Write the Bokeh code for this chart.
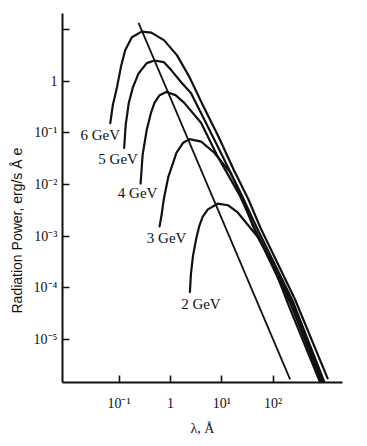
from bokeh.plotting import figure
from bokeh.models import Range1d, FixedTicker, Title, ColumnDataSource
from bokeh.core.properties import value
from bokeh.embed import file_html
from bokeh.resources import INLINE

# ---- data (log10 of wavelength in Angstrom, log10 of power) ----
energies = ["6 GeV", "5 GeV", "4 GeV", "3 GeV", "2 GeV"]

log_lam_6 = [-1.17, -1.12, -1.04, -0.96, -0.88, -0.75, -0.56, -0.37, -0.12, 0.13, 0.37, 0.63, 0.94, 1.23, 1.52, 1.75, 2.42, 3.06]
log_pow_6 = [-0.81, -0.46, -0.12, 0.29, 0.60, 0.85, 0.96, 0.94, 0.79, 0.50, 0.08, -0.46, -1.08, -1.71, -2.29, -2.83, -4.21, -5.75]

log_lam_5 = [-0.90, -0.87, -0.81, -0.73, -0.62, -0.46, -0.31, -0.13, 0.02, 0.21, 0.40, 0.73, 1.02, 1.40, 1.69, 2.38, 3.02]
log_pow_5 = [-1.29, -0.85, -0.42, -0.12, 0.15, 0.35, 0.40, 0.37, 0.21, -0.02, -0.23, -0.88, -1.46, -2.23, -2.85, -4.25, -5.88]

log_lam_4 = [-0.58, -0.54, -0.46, -0.38, -0.31, -0.21, -0.08, 0.10, 0.27, 0.60, 0.90, 1.35, 1.65, 2.37, 3.00]
log_pow_4 = [-1.98, -1.42, -0.94, -0.62, -0.42, -0.27, -0.21, -0.27, -0.42, -0.81, -1.42, -2.21, -2.87, -4.29, -5.90]

log_lam_3 = [-0.21, -0.17, -0.13, -0.04, 0.12, 0.25, 0.37, 0.60, 0.85, 1.17, 1.42, 1.60, 2.35, 2.98]
log_pow_3 = [-2.81, -2.58, -2.29, -1.85, -1.38, -1.19, -1.12, -1.17, -1.38, -1.77, -2.29, -2.79, -4.33, -5.92]

log_lam_2 = [0.38, 0.40, 0.44, 0.50, 0.56, 0.63, 0.73, 0.92, 1.12, 1.31, 1.69, 1.94, 2.12, 2.29, 2.96]
log_pow_2 = [-4.08, -3.73, -3.38, -3.06, -2.81, -2.62, -2.48, -2.37, -2.40, -2.54, -3.00, -3.44, -3.87, -4.31, -5.94]

# straight line through the maxima
peak_log_lam = [-0.62, 2.33]
peak_log_pow = [1.13, -5.77]

x_ticks = [0.1, 1, 10, 100]
x_tick_labels = ["10\u207b\u00b9", "1", "10\u00b9", "10\u00b2"]
y_ticks = [1e-5, 1e-4, 1e-3, 1e-2, 1e-1, 1, 10]
y_tick_labels = ["10\u207b\u2075", "10\u207b\u2074", "10\u207b\u00b3", "10\u207b\u00b2", "10\u207b\u00b9", "1", ""]

curves_lam = [log_lam_6, log_lam_5, log_lam_4, log_lam_3, log_lam_2]
curves_pow = [log_pow_6, log_pow_5, log_pow_4, log_pow_3, log_pow_2]

# ---- styling ----
SERIF = "Liberation Serif"
SANS = "Liberation Sans"
INK = "#111111"
label_dx = [-10, -6, -3, 7, 11]
label_dy = [12, 11, 9, 12, 12]

p = figure(width=358, height=438, output_backend="svg", toolbar_location=None,
           x_axis_type="log", y_axis_type="log",
           x_range=Range1d(10 ** -2.1, 10 ** 3.35), y_range=Range1d(10 ** -5.83, 10 ** 1.31),
           min_border_left=60, min_border_right=16, min_border_top=13, min_border_bottom=54)
p.outline_line_color = None
p.xgrid.visible = False
p.ygrid.visible = False
p.background_fill_color = "white"
p.border_fill_color = "white"

for lams, pows in zip(curves_lam, curves_pow):
    p.line([10 ** v for v in lams], [10 ** v for v in pows], line_color=INK, line_width=2.2,
           line_join="round", line_cap="round")

p.line([10 ** v for v in peak_log_lam], [10 ** v for v in peak_log_pow], line_color=INK, line_width=1.8)

# curve labels, anchored at each curve's short-wavelength end
src = ColumnDataSource(dict(
    x=[10 ** c[0] for c in curves_lam],
    y=[10 ** c[0] for c in curves_pow],
    text=energies, dx=label_dx, dy=label_dy))
p.text(x="x", y="y", text="text", x_offset="dx", y_offset="dy", source=src,
       text_font=value(SERIF), text_font_size="15px", text_color=INK,
       text_align="center", text_baseline="middle")

for ax in (p.xaxis, p.yaxis):
    ax.axis_line_width = 2
    ax.axis_line_color = INK
    ax.major_tick_line_width = 1.6
    ax.major_tick_line_color = INK
    ax.major_tick_in = 7
    ax.major_tick_out = 0
    ax.minor_tick_in = 0
    ax.minor_tick_out = 0
    ax.major_label_text_font = SERIF
    ax.major_label_text_font_size = "14px"
    ax.major_label_text_color = INK

p.xaxis.ticker = FixedTicker(ticks=x_ticks, minor_ticks=[])
p.yaxis.ticker = FixedTicker(ticks=y_ticks, minor_ticks=[])
p.xaxis.major_label_overrides = {t: s for t, s in zip(x_ticks, x_tick_labels)}
p.yaxis.major_label_overrides = {t: s for t, s in zip(y_ticks, y_tick_labels)}
p.xaxis.major_label_standoff = 13
p.yaxis.major_label_standoff = 5

p.xaxis.axis_label = "\u03bb, \u00c5"
p.xaxis.axis_label_text_font = SERIF
p.xaxis.axis_label_text_font_style = "normal"
p.xaxis.axis_label_text_font_size = "14px"
p.xaxis.axis_label_text_color = INK
p.xaxis.axis_label_standoff = 7

p.add_layout(Title(text="Radiation Power, erg/s \u00c5 e", align="left", offset=69,
                   text_font=SANS, text_font_size="14px", text_font_style="normal",
                   text_color=INK, standoff=12), "left")

open("out.html", "w").write(file_html(p, INLINE))
